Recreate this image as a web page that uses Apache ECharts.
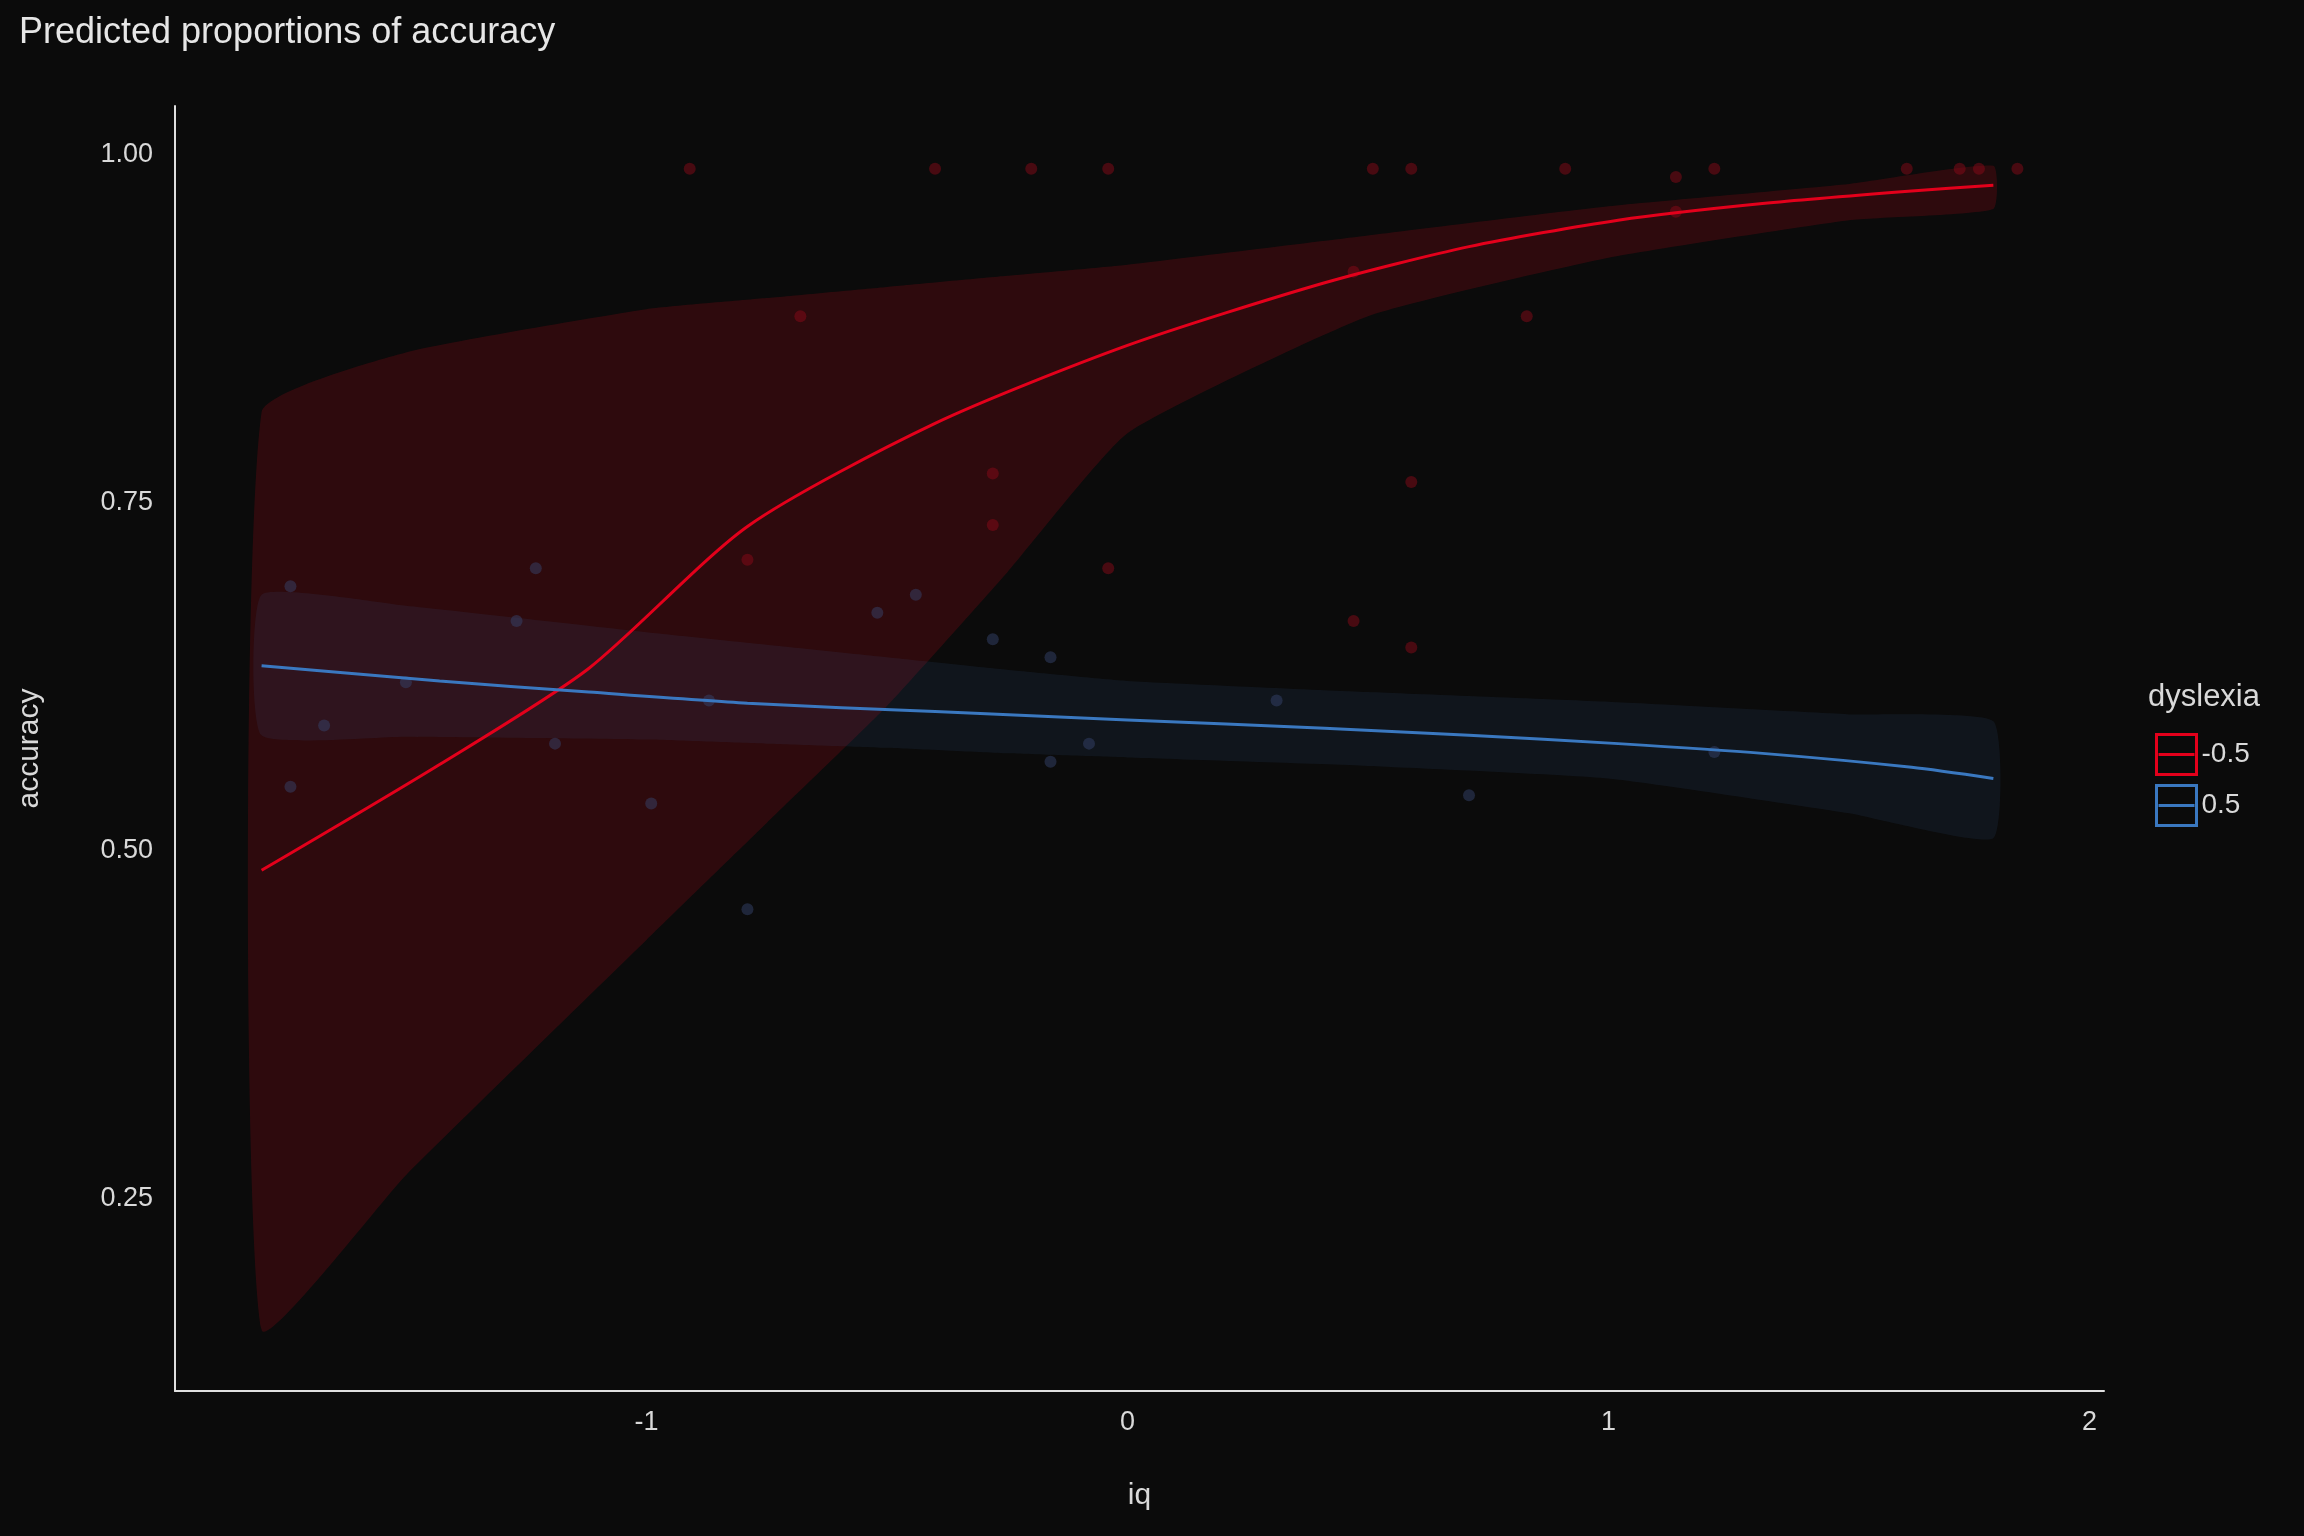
<!DOCTYPE html>
<html>
<head>
<meta charset="utf-8">
<script src="https://cdn.jsdelivr.net/npm/echarts@6/dist/echarts.min.js"></script>
<style>html,body{margin:0;background:#0b0b0b;}#c{width:2304px;height:1536px;}</style>
</head>
<body>
<div id="c"></div>
<script>
// fitted curves
let fitX = [-1.8, -1.43, -1.12, -0.79, -0.4, 0, 0.41, 0.71, 1.02, 1.32, 1.63, 1.8];
let redFit = [0.486, 0.562, 0.631, 0.733, 0.807, 0.863, 0.908, 0.934, 0.953, 0.965, 0.974, 0.978];
let blueFit = [0.633, 0.622, 0.614, 0.606, 0.6, 0.594, 0.588, 0.583, 0.577, 0.570, 0.560, 0.552];

let bandX = [-1.8, -1.5, -1.0, -0.75, -0.5, -0.25, 0, 0.5, 1.0, 1.5, 1.8];
let redUpper = [0.815, 0.858, 0.889, 0.897, 0.905, 0.913, 0.921, 0.942, 0.963, 0.979, 0.992];
let redLower = [0.156, 0.267, 0.436, 0.52, 0.604, 0.70, 0.80, 0.884, 0.926, 0.953, 0.961];
let blueUpper = [0.684, 0.676, 0.657, 0.648, 0.639, 0.630, 0.622, 0.614, 0.607, 0.598, 0.593];
let blueLower = [0.583, 0.582, 0.580, 0.577, 0.574, 0.570, 0.567, 0.561, 0.552, 0.527, 0.509];

// observed points
let redPts = [[-0.91,0.99],[-0.40,0.99],[-0.20,0.99],[-0.04,0.99],[0.51,0.99],[0.59,0.99],[0.91,0.99],
  [1.14,0.984],[1.22,0.99],[1.62,0.99],[1.73,0.99],[1.77,0.99],[1.85,0.99],[1.14,0.959],[0.47,0.916],
  [-0.68,0.884],[0.83,0.884],[-0.28,0.771],[0.59,0.765],[-0.28,0.734],[-0.79,0.709],[-0.04,0.703],
  [0.47,0.665],[0.59,0.646]];
let bluePts = [[-1.74,0.69],[-1.23,0.703],[-1.27,0.665],[-1.50,0.621],[-1.67,0.590],[-1.74,0.546],
  [-1.19,0.577],[-0.87,0.608],[-0.99,0.534],[-0.52,0.671],[-0.44,0.684],[-0.28,0.652],[-0.16,0.639],
  [-0.16,0.564],[-0.08,0.577],[0.31,0.608],[0.71,0.540],[1.22,0.571],[-0.79,0.458]];

let xTicks = [-1, 0, 1, 2];
let yTicks = [0.25, 0.5, 0.75, 1.0];

function zip(xs, ys) { return xs.map((x, i) => [x, ys[i]]); }
function ribbon(name, upper, lower, fill) {
    return {
        type: 'custom', name: name, silent: true, z: 1,
        data: [0],
        renderItem: function (params, api) {
            let pts = bandX.map((x, i) => api.coord([x, upper[i]]));
            for (let i = bandX.length - 1; i >= 0; i--) pts.push(api.coord([bandX[i], lower[i]]));
            return { type: 'polygon', shape: { points: pts, smooth: 0.15 }, style: { fill: fill } };
        }
    };
}

let chart = echarts.init(document.getElementById('c'));
let txt = '#d9d9d9';
chart.setOption({
    backgroundColor: '#0b0b0b',
    animation: false,
    title: { text: 'Predicted proportions of accuracy', left: 14, top: 10,
        textStyle: { color: '#e6e6e6', fontSize: 36, fontWeight: 'normal', fontFamily: 'Liberation Sans' } },
    grid: { left: 175, right: 200, top: 106, bottom: 145 },
    xAxis: {
        type: 'value', min: -1.98, max: 2.03, name: 'iq', nameLocation: 'middle', nameGap: 90,
        nameTextStyle: { color: txt, fontSize: 30, fontFamily: 'Liberation Sans' },
        axisLine: { show: true, onZero: false, lineStyle: { color: '#e0e0e0', width: 2 } },
        axisTick: { show: false }, splitLine: { show: false },
        axisLabel: { color: txt, fontSize: 27, margin: 18, fontFamily: 'Liberation Sans',
            customValues: xTicks, formatter: v => String(v) }
    },
    yAxis: {
        type: 'value', min: 0.112, max: 1.035, name: 'accuracy', nameLocation: 'middle', nameGap: 130,
        nameTextStyle: { color: txt, fontSize: 30, fontFamily: 'Liberation Sans' },
        axisLine: { show: true, onZero: false, lineStyle: { color: '#e0e0e0', width: 2 } },
        axisTick: { show: false }, splitLine: { show: false },
        axisLabel: { color: txt, fontSize: 27, margin: 22, fontFamily: 'Liberation Sans',
            customValues: yTicks, formatter: v => v.toFixed(2) }
    },
    legend: {
        orient: 'vertical', left: 2150, top: 728, itemWidth: 40, itemHeight: 40, itemGap: 8,
        data: [{ name: '-0.5', icon: 'path://M0,0H40V40H0ZM2,20H38' }, { name: '0.5', icon: 'path://M0,0H40V40H0ZM2,20H38' }],
        textStyle: { color: txt, fontSize: 28, fontFamily: 'Liberation Sans' },
        itemStyle: { color: 'transparent', borderWidth: 3 }
    },
    graphic: [{ type: 'text', left: 2148, top: 682,
        style: { text: 'dyslexia', fill: txt, fontSize: 31, fontFamily: 'Liberation Sans' } }],
    series: [
        ribbon('redBand', redUpper, redLower, 'rgba(190,10,25,0.20)'),
        ribbon('blueBand', blueUpper, blueLower, 'rgba(60,100,160,0.12)'),
        { type: 'scatter', name: 'redPts', data: redPts, symbolSize: 12, z: 2,
          itemStyle: { color: 'rgba(150,10,25,0.55)' } },
        { type: 'scatter', name: 'bluePts', data: bluePts, symbolSize: 12, z: 2,
          itemStyle: { color: 'rgba(55,70,110,0.6)' } },
        { type: 'line', name: '-0.5', data: zip(fitX, redFit), smooth: 0.25, showSymbol: false, z: 3,
          lineStyle: { color: '#e3001b', width: 3 }, itemStyle: { color: 'transparent', borderColor: '#e3001b' } },
        { type: 'line', name: '0.5', data: zip(fitX, blueFit), smooth: 0.25, showSymbol: false, z: 3,
          lineStyle: { color: '#3a78c0', width: 3 }, itemStyle: { color: 'transparent', borderColor: '#3a78c0' } }
    ]
});
</script>
</body>
</html>
